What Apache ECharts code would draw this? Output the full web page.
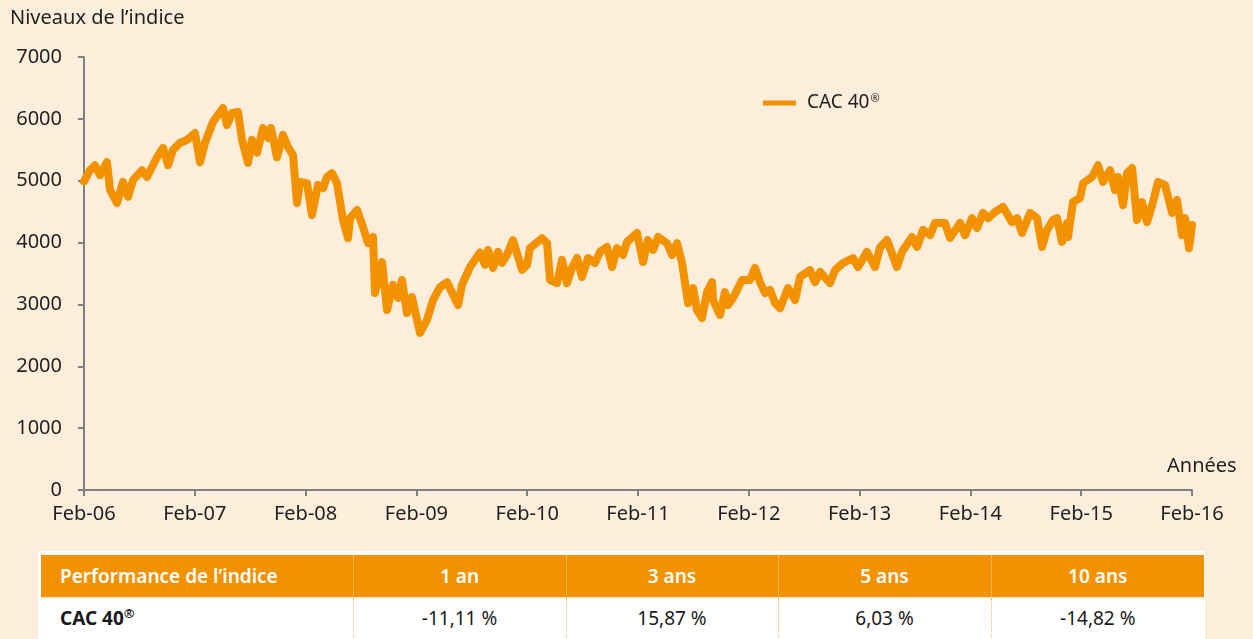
<!DOCTYPE html>
<html>
<head>
<meta charset="utf-8">
<script src="https://cdn.jsdelivr.net/npm/echarts@6/dist/echarts.min.js"></script>
<style>
  html, body { margin: 0; padding: 0; background: #fdeedb; }
  #cacChart { position: absolute; left: 0; top: 0; width: 1253px; height: 639px; }
  #perfBox {
    position: absolute; left: 38px; top: 551px; width: 1167px; height: 100px;
    background: #ffffff; padding: 4px 0 0 3px; box-sizing: border-box; overflow: hidden;
  }
  #perfTable { border-collapse: collapse; table-layout: fixed; width: 1163px; font-family: "Noto Sans", sans-serif; }
  #perfTable th, #perfTable td { box-sizing: border-box; }
  #perfTable th {
    background: #f39200; color: #ffffff; font-weight: 600; font-size: 19px;
    height: 42px; padding: 0; text-align: center;
    border-left: 1px dotted #fbd29a; border-bottom: 1px dotted #fbd29a;
  }
  #perfTable td {
    background: #ffffff; color: #1a1a1a; font-size: 19px; height: 41px; padding: 0;
    text-align: center; border-left: 1px dotted #f7b45a;
  }
  #perfTable th:first-child, #perfTable td:first-child { text-align: left; padding-left: 19px; border-left: none; }
  #perfTable td:first-child { font-weight: 700; }
  #perfTable sup { font-size: 13px; line-height: 0; }
</style>
</head>
<body>
<div id="cacChart"></div>
<div id="perfBox">
  <table id="perfTable">
    <colgroup id="perfCols"></colgroup>
    <thead><tr id="perfHead"></tr></thead>
    <tbody><tr id="perfRow"></tr></tbody>
  </table>
</div>
<script>
// mois depuis fev. 2006 (0 = Feb-06, 120 = Feb-16)
const months = [
  0, 0.65, 1.19, 1.73, 2.49, 2.82, 3.57, 4.22, 4.77, 5.31, 6.28, 6.82, 7.91, 8.56, 9.10, 9.64,
  10.40, 11.16, 12.02, 12.56, 13.10, 13.97, 15.05, 15.49, 16.03, 16.68, 17.11, 17.76, 18.20, 18.74,
  19.39, 19.93, 20.25, 20.90, 21.55, 22.09, 22.64, 23.07, 23.39, 24.15, 24.69, 25.34, 25.89, 26.32,
  26.86, 27.40, 28.05, 28.59, 28.81, 29.57, 30.22, 30.76, 31.30, 31.52, 32.28, 32.82, 33.47, 34.01,
  34.44, 34.98, 35.52, 36.39, 37.15, 37.80, 38.56, 39.32, 40.51, 40.94, 41.81, 42.89, 43.43, 43.76,
  44.30, 44.84, 45.27, 45.81, 46.46, 47.44, 47.98, 48.30, 49.60, 50.15, 50.47, 51.23, 51.77, 52.31,
  52.85, 53.40, 53.94, 54.59, 55.34, 55.89, 56.64, 57.19, 57.73, 58.38, 58.81, 59.89, 60.54, 61.08,
  61.63, 62.17, 63.14, 63.68, 64.23, 64.77, 65.42, 65.96, 66.39, 66.93, 67.48, 68.02, 68.13, 68.88,
  69.42, 69.75, 70.29, 71.27, 72.13, 72.67, 73.21, 73.76, 74.30, 74.84, 75.38, 76.25, 77.01, 77.55,
  78.63, 79.17, 79.72, 80.80, 81.34, 82.20, 83.29, 83.83, 84.80, 85.67, 86.21, 86.97, 88.05, 88.59,
  89.68, 90.22, 90.87, 91.63, 92.17, 93.25, 93.79, 94.88, 95.42, 96.18, 96.72, 97.37, 97.91, 98.67,
  99.53, 100.51, 101.05, 101.59, 102.46, 103.22, 103.76, 104.30, 104.95, 105.38, 105.92, 106.47,
  106.57, 107.11, 107.87, 108.20, 109.17, 109.82, 110.36, 111.12, 111.66, 111.99, 112.53, 112.96,
  113.51, 114.05, 114.59, 115.13, 115.78, 116.32, 117.08, 117.84, 118.38, 118.92, 119.25, 119.68, 120
];
const levels = [
  4990, 5170, 5250, 5090, 5300, 4850, 4640, 4980, 4740, 5010, 5170, 5060, 5380, 5530, 5250, 5500,
  5610, 5660, 5770, 5300, 5610, 5950, 6175, 5900, 6095, 6110, 5660, 5290, 5660, 5450,
  5850, 5690, 5850, 5380, 5740, 5545, 5415, 4640, 4980, 4960, 4445, 4930, 4880, 5060,
  5120, 4960, 4365, 4070, 4395, 4525, 4250, 3990, 4090, 3185, 3685, 2910, 3315, 3105,
  3395, 2860, 3120, 2540, 2750, 3070, 3280, 3360, 2990, 3315, 3605, 3840, 3640, 3880,
  3590, 3850, 3670, 3800, 4040, 3560, 3640, 3910, 4070, 3990, 3395, 3345, 3720, 3345,
  3590, 3750, 3445, 3750, 3670, 3850, 3930, 3605, 3910, 3800, 4010, 4155, 3685, 4040,
  3880, 4090, 3990, 3800, 3990, 3670, 3020, 3265, 2910, 2780, 3200, 3360, 3070, 2830,
  3200, 2990, 3105, 3395, 3395, 3590, 3360, 3185, 3235, 3020, 2940, 3265, 3070, 3445,
  3555, 3360, 3525, 3345, 3555, 3670, 3750, 3605, 3850, 3605, 3920, 4040, 3605, 3850,
  4090, 3930, 4205, 4120, 4315, 4315, 4075, 4315, 4120, 4395, 4235, 4480, 4395, 4495,
  4575, 4330, 4395, 4155, 4480, 4395, 3930, 4205, 4365, 4395, 4010, 4315,
  4090, 4655, 4720, 4960, 5060, 5250, 4980, 5170, 4850, 5060, 4605, 5120,
  5205, 4365, 4655, 4330, 4655, 4980, 4930, 4480, 4690, 4120, 4395, 3910, 4285
];

// tableau des performances
const perfHeaders = ["Performance de l\u2019indice", "1 an", "3 ans", "5 ans", "10 ans"];
const perfValues = ["CAC 40", "-11,11 %", "15,87 %", "6,03 %", "-14,82 %"];
const colWidths = [312, 213, 212, 213, 213];

const orange = "#f39200";
const textColor = "#1f1f1f";
const axisColor = "#808080";
const font = "Noto Sans";

let cols = document.getElementById("perfCols");
let headRow = document.getElementById("perfHead");
let bodyRow = document.getElementById("perfRow");
colWidths.forEach(w => {
  let col = document.createElement("col");
  col.style.width = w + "px";
  cols.appendChild(col);
});
perfHeaders.forEach(h => {
  let th = document.createElement("th");
  th.textContent = h;
  headRow.appendChild(th);
});
perfValues.forEach((v, i) => {
  let td = document.createElement("td");
  td.textContent = v;
  if (i === 0) {
    // marque deposee en exposant
    let sup = document.createElement("sup");
    sup.textContent = "\u00ae";
    td.appendChild(sup);
  }
  bodyRow.appendChild(td);
});

let seriesData = months.map((m, i) => [m, levels[i]]);

let myChart = echarts.init(document.getElementById("cacChart"));
let option = {
  backgroundColor: "#fdeedb",
  textStyle: { fontFamily: font },
  animation: false,
  grid: { left: 84, right: 61, top: 57, bottom: 149 },
  legend: {
    left: 758,
    top: 88,
    icon: "rect",
    itemWidth: 33,
    itemHeight: 5,
    itemGap: 10,
    data: ["CAC 40\u00ae"],
    formatter: function () { return "{a|CAC 40}{r|\u00ae}"; },
    textStyle: {
      color: textColor,
      padding: [0, 0, 0, 6],
      rich: {
        a: { fontSize: 19, fontFamily: font, color: textColor },
        r: { fontSize: 11, fontFamily: font, color: textColor, padding: [0, 0, 9, 1] }
      }
    }
  },
  xAxis: {
    type: "value",
    min: 0,
    max: 120,
    interval: 12,
    axisLine: { lineStyle: { color: axisColor, width: 2 } },
    axisTick: { show: true, length: 6, lineStyle: { color: axisColor, width: 2 } },
    splitLine: { show: false },
    axisLabel: {
      margin: 14,
      fontSize: 20,
      color: textColor,
      formatter: function (v) { return "Feb-" + String(6 + v / 12).padStart(2, "0"); }
    }
  },
  yAxis: {
    type: "value",
    min: 0,
    max: 7000,
    interval: 1000,
    axisLine: { show: true, lineStyle: { color: axisColor, width: 2 } },
    axisTick: { show: true, length: 6, lineStyle: { color: axisColor, width: 2 } },
    splitLine: { show: false },
    axisLabel: {
      margin: 22,
      fontSize: 20,
      color: textColor,
      formatter: function (v) { return String(v); }
    }
  },
  graphic: [
    {
      type: "text", left: 10, top: 8,
      style: { text: "Niveaux de l\u2019indice", fontSize: 20, fontFamily: font, fill: textColor }
    },
    {
      type: "text", left: 1167, top: 456,
      style: { text: "Ann\u00e9es", fontSize: 20, fontFamily: font, fill: textColor }
    }
  ],
  series: [
    {
      name: "CAC 40\u00ae",
      type: "line",
      data: seriesData,
      symbol: "none",
      color: orange,
      lineStyle: { width: 8, color: orange, join: "round", cap: "round" }
    }
  ]
};
myChart.setOption(option);
</script>
</body>
</html>
